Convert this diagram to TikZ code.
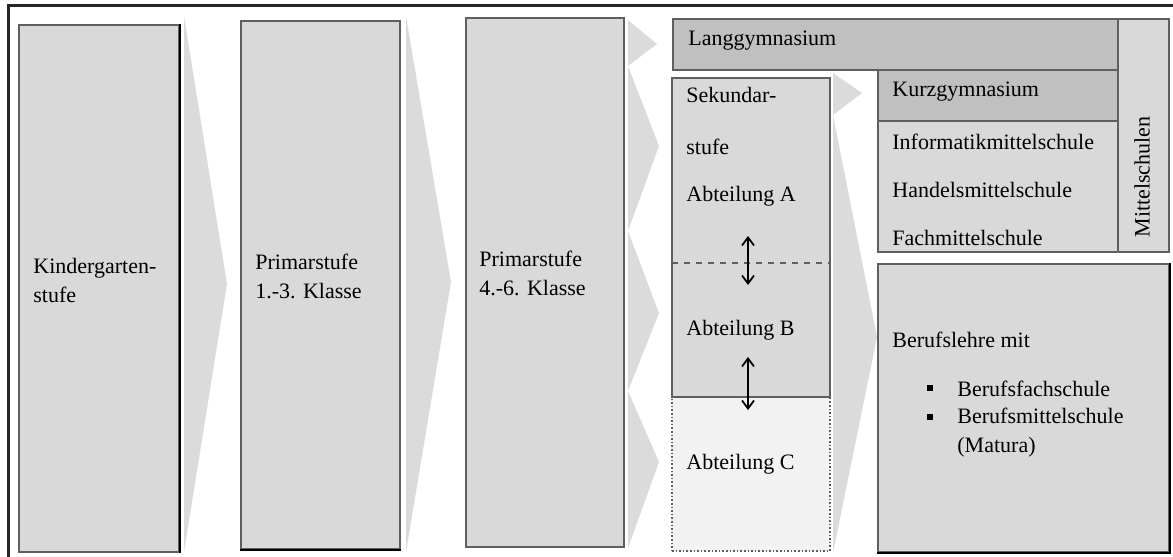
\documentclass[tikz,border=0pt]{standalone}
\usepackage{fontspec}
\setmainfont{Liberation Serif}
\usetikzlibrary{arrows.meta,positioning,fit}
\definecolor{boxcolor}{RGB}{217,217,217}
\definecolor{gymcolor}{RGB}{192,192,192}
\definecolor{abtcolor}{RGB}{242,242,242}
\definecolor{chevcolor}{RGB}{219,219,219}
\definecolor{edgecolor}{RGB}{95,95,95}
\tikzset{
  stage/.style    = {rectangle, fill=boxcolor, draw=edgecolor, line width=0.8pt, inner sep=0pt},
  gym/.style      = {stage, fill=gymcolor},
  abtbox/.style   = {stage, fill=abtcolor, densely dotted},
  chev/.style     = {fill=chevcolor, draw=none},
  lbl/.style      = {anchor=west, inner sep=0pt, align=left,
                     font=\fontsize{11}{14.5}\selectfont},
  bulletsq/.style = {rectangle, fill=black, minimum size=3pt, inner sep=0pt},
  divider/.style  = {dashed, draw=edgecolor, line width=0.6pt},
  darkedge/.style = {draw=black, line width=1.1pt},
  updown/.style   = {{Straight Barb[length=4pt,width=6pt]}-{Straight Barb[length=4pt,width=6pt]},
                     line width=0.9pt},
  outerframe/.style = {line width=1.5pt, draw=black!85}
}

\begin{document}
\begin{tikzpicture}[x=0.5pt,y=-0.5pt]
\useasboundingbox (0,0) rectangle (1173,557);

% outer frame (only top and left visible)
\draw[outerframe] (8,557) -- (8,5) -- (1173,5);

% -------------------- Chevrons (behind the boxes) --------------------
\foreach \xl/\yt/\xt/\ym/\yb in {184/16/227/284/552, 406/16/451/282/552,
                                  628/20/657/44/66, 628/66/659/146/231,
                                  628/231/659/313/391, 628/391/659/462/548,
                                  833/73/862/93/115, 833/115/877/337/553}{
  \fill[chev] (\xl,\yt) -- (\xt,\ym) -- (\xl,\yb) -- cycle;
}

% -------------------- Boxes --------------------
\node[stage, fit={(19,25)(179,552)}]   (kiga)   {};
\node[stage, fit={(241,21)(400,549)}]  (primA)  {};
\node[stage, fit={(466,18)(624,547)}]  (primB)  {};
\node[gym,   fit={(673,19)(1118,70)}]  (lang)   {};
\node[stage, fit={(1118,19)(1169,252)}] (mittel) {};
\node[gym,   fit={(878,70)(1118,121)}] (kurz)   {};
\node[stage, fit={(878,121)(1118,252)}] (mlist) {};
\node[abtbox, fit={(672,397)(830,551)}] (sekC)  {};
\node[stage, fit={(672,78)(830,397)}]  (sekAB)  {};
\node[stage, fit={(878,264)(1169,552)}] (beruf) {};

% darker shadow edges
\draw[darkedge] (kiga.north east) -- (kiga.south east);
\draw[darkedge] (primA.south west) -- (primA.south east);
\draw[darkedge] (beruf.north east) -- (beruf.south east) -- (beruf.south west);

% dashed border between Abteilung A and B
\coordinate (divL) at (672,263);
\coordinate (divR) at (830,263);
\draw[divider] (divL) -- (divR);

% -------------------- Labels --------------------
\node[lbl] (kigaT)  at (33,280)  {Kindergarten-\\stufe};
\node[lbl] (primAT) at (255,276) {Primarstufe\\1.-3. Klasse};
\node[lbl] (primBT) at (479,273) {Primarstufe\\4.-6. Klasse};
\node[lbl] (langT)  at (688,41)  {Langgymnasium};
\node[lbl] (kurzT)  at (892,92)  {Kurzgymnasium};

% Mittelschulen list
\foreach \y/\name [count=\i] in {142/Informatikmittelschule, 190/Handelsmittelschule,
                                 238/Fachmittelschule}{
  \node[lbl] (ms\i) at (892,\y) {\name};
}
\node[lbl, rotate=90, anchor=center] (mittelT) at (1142,177) {Mittelschulen};

% Sekundarstufe column
\foreach \y/\name [count=\i] in {95/{Sekundar-}, 147/{stufe}, 196/{Abteilung A}}{
  \node[lbl] (sek\i) at (686,\y) {\name};
}
\node[lbl] (abtB) at (686,330) {Abteilung B};
\node[lbl] (abtC) at (686,464) {Abteilung C};

% Berufslehre
\node[lbl] (berufT) at (892,340) {Berufslehre mit};
\node[bulletsq] (bul1) at (930,388) {};
\node[bulletsq] (bul2) at (930,417) {};
\node[lbl] (bfs) at (957,389) {Berufsfachschule};
\node[lbl] (bms) at (957,433) {Berufsmittelschule\\(Matura)};

% -------------------- Permeability arrows --------------------
\coordinate (upA) at (748,236);
\coordinate (dnA) at (748,285);
\coordinate (upB) at (748,357);
\coordinate (dnB) at (748,410);
\draw[updown] (upA) -- (dnA);
\draw[updown] (upB) -- (dnB);

\end{tikzpicture}
\end{document}
